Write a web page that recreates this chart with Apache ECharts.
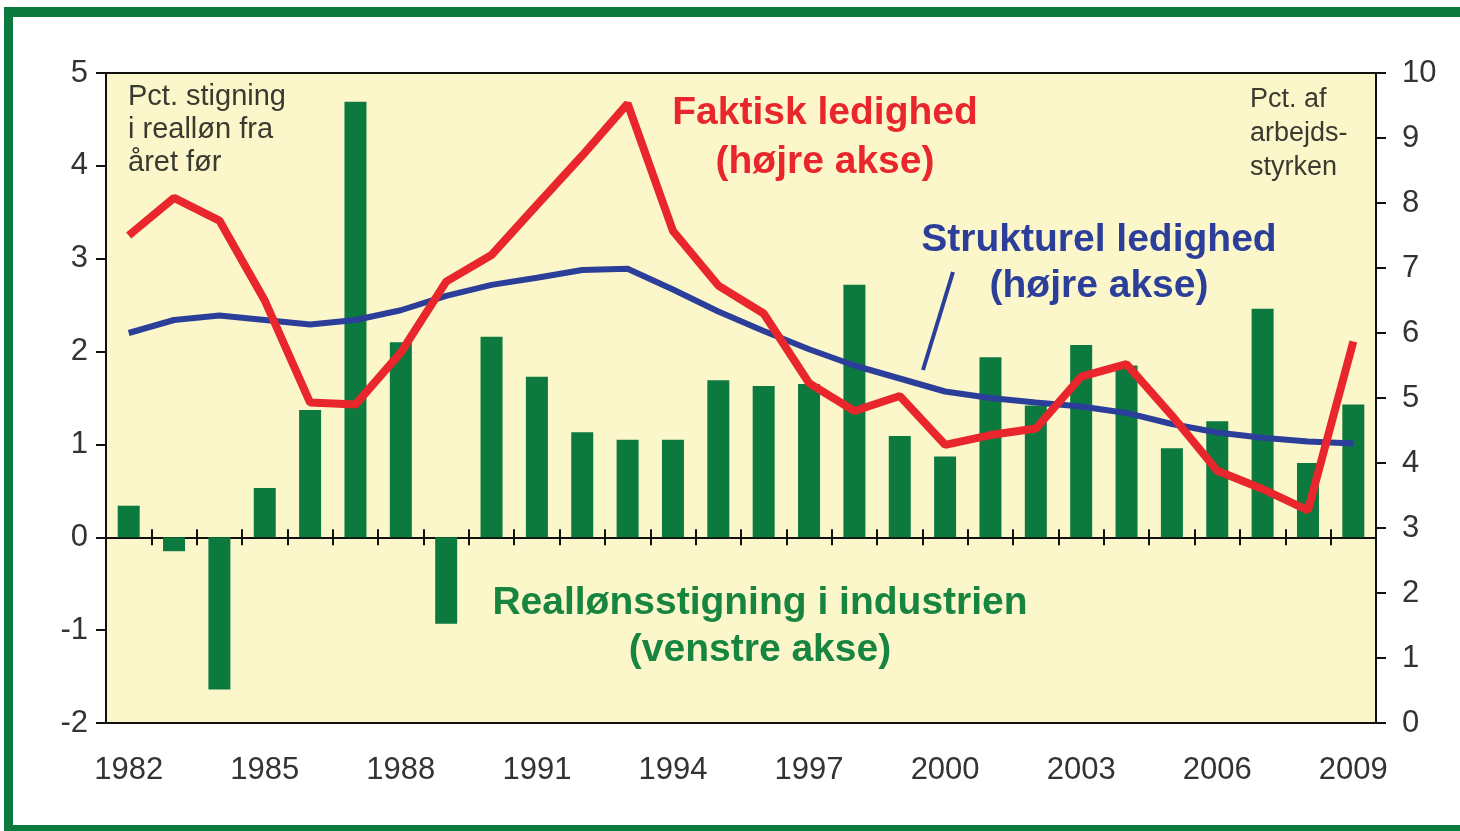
<!DOCTYPE html>
<html>
<head>
<meta charset="utf-8">
<script src="https://cdn.jsdelivr.net/npm/echarts@6/dist/echarts.min.js"></script>
<style>
  html, body { margin: 0; padding: 0; background: #fff; }
  #chart { width: 1460px; height: 831px; }
</style>
</head>
<body>
<div id="chart"></div>
<script>
const years = ['1982','1983','1984','1985','1986','1987','1988','1989','1990','1991',
  '1992','1993','1994','1995','1996','1997','1998','1999','2000','2001',
  '2002','2003','2004','2005','2006','2007','2008','2009'];

// Reallønsstigning i industrien, pct. (venstre akse)
const realWage = [0.34, -0.15, -1.64, 0.53, 1.37, 4.69, 2.10, -0.93, 2.16, 1.73,
  1.13, 1.05, 1.05, 1.69, 1.63, 1.65, 2.72, 1.09, 0.87, 1.94,
  1.42, 2.07, 1.85, 0.96, 1.25, 2.46, 0.80, 1.43];

// Faktisk ledighed, pct. af arbejdsstyrken (højre akse)
const actual = [7.5, 8.08, 7.73, 6.5, 4.93, 4.9, 5.7, 6.79, 7.2, 7.97,
  8.73, 9.53, 7.57, 6.73, 6.3, 5.23, 4.8, 5.03, 4.28, 4.43,
  4.53, 5.33, 5.52, 4.73, 3.88, 3.6, 3.27, 5.87];

// Strukturel ledighed (højre akse)
const structural = [6.0, 6.2, 6.27, 6.2, 6.13, 6.2, 6.35, 6.57, 6.74, 6.85,
  6.97, 6.99, 6.67, 6.33, 6.03, 5.75, 5.5, 5.3, 5.1, 5.0,
  4.93, 4.87, 4.77, 4.6, 4.47, 4.39, 4.33, 4.3];

const leftTicks = { min: -2, max: 5, interval: 1 };
const rightTicks = { min: 0, max: 10, interval: 1 };

const GREEN = '#0c7a3e';
const RED = '#e8262b';
const BLUE = '#2b3f9a';
const FONT = '"Liberation Sans", Arial, sans-serif';

const chart = echarts.init(document.getElementById('chart'));

const axisLineStyle = { color: '#111', width: 2 };
const tickStyle = { color: '#111', width: 2 };
const labelStyle = { color: '#333', fontSize: 31, fontFamily: FONT };

chart.setOption({
  animation: false,
  backgroundColor: '#fff',
  grid: {
    left: 106, right: 84, top: 73, bottom: 108,
    containLabel: false, outerBoundsMode: 'none',
    show: true, backgroundColor: '#fcf7ca', borderColor: '#111', borderWidth: 2
  },
  xAxis: [
    {
      // year labels along the bottom of the frame
      type: 'category', data: years, position: 'bottom',
      axisLine: { show: false, onZero: false },
      axisTick: { show: false },
      axisLabel: { interval: 2, margin: 32, ...labelStyle }
    },
    {
      // zero line, ticks pointing up
      type: 'category', data: years, position: 'top',
      axisLine: { onZero: true, onZeroAxisIndex: 0, lineStyle: axisLineStyle },
      axisTick: { show: true, interval: 0, length: 8, lineStyle: tickStyle },
      axisLabel: { show: false }
    },
    {
      // zero line, ticks pointing down
      type: 'category', data: years, position: 'top',
      axisLine: { onZero: true, onZeroAxisIndex: 0, lineStyle: axisLineStyle },
      axisTick: { show: true, inside: true, interval: 0, length: 8, lineStyle: tickStyle },
      axisLabel: { show: false }
    }
  ],
  yAxis: [
    {
      type: 'value', position: 'left', ...leftTicks,
      axisLine: { show: true, lineStyle: axisLineStyle },
      axisTick: { show: true, length: 10, lineStyle: tickStyle },
      splitLine: { show: false },
      axisLabel: { margin: 18, ...labelStyle }
    },
    {
      type: 'value', position: 'right', ...rightTicks,
      axisLine: { show: true, lineStyle: axisLineStyle },
      axisTick: { show: true, length: 10, lineStyle: tickStyle },
      splitLine: { show: false },
      axisLabel: { margin: 26, ...labelStyle }
    }
  ],
  series: [
    {
      name: 'Reallønsstigning i industrien', type: 'bar', data: realWage,
      xAxisIndex: 0, yAxisIndex: 0, barWidth: 22,
      itemStyle: { color: GREEN }
    },
    {
      name: 'Strukturel ledighed', type: 'line', data: structural,
      xAxisIndex: 0, yAxisIndex: 1, symbol: 'none',
      lineStyle: { color: BLUE, width: 6 }
    },
    {
      name: 'Faktisk ledighed', type: 'line', data: actual,
      xAxisIndex: 0, yAxisIndex: 1, symbol: 'none',
      lineStyle: { color: RED, width: 8 }
    }
  ],
  graphic: [
    // green frame
    { type: 'rect', shape: { x: 4, y: 7, width: 1460, height: 10 }, style: { fill: GREEN } },
    { type: 'rect', shape: { x: 4, y: 7, width: 9, height: 824 }, style: { fill: GREEN } },
    { type: 'rect', shape: { x: 4, y: 825, width: 1460, height: 8 }, style: { fill: GREEN } },
    // unit notes
    { type: 'text', left: 128, top: 80, z: 10,
      style: { text: 'Pct. stigning\ni realløn fra\nåret før', fill: '#3a3a30',
        font: '29px ' + FONT, lineHeight: 33 } },
    { type: 'text', left: 1250, top: 83, z: 10,
      style: { text: 'Pct. af\narbejds-\nstyrken', fill: '#3a3a30',
        font: '27px ' + FONT, lineHeight: 34 } },
    // series labels
    { type: 'text', x: 825, y: 89, z: 10,
      style: { text: 'Faktisk ledighed\n(højre akse)', fill: RED, align: 'center',
        font: 'bold 39px ' + FONT, lineHeight: 49 } },
    { type: 'text', x: 1099, y: 217, z: 10,
      style: { text: 'Strukturel ledighed\n(højre akse)', fill: BLUE, align: 'center',
        font: 'bold 39px ' + FONT, lineHeight: 46 } },
    { type: 'line', z: 10, shape: { x1: 953, y1: 272, x2: 923, y2: 370 },
      style: { stroke: BLUE, lineWidth: 4 } },
    { type: 'text', x: 760, y: 580, z: 10,
      style: { text: 'Reallønsstigning i industrien\n(venstre akse)', fill: '#17843f', align: 'center',
        font: 'bold 39px ' + FONT, lineHeight: 47 } }
  ]
});
</script>
</body>
</html>
